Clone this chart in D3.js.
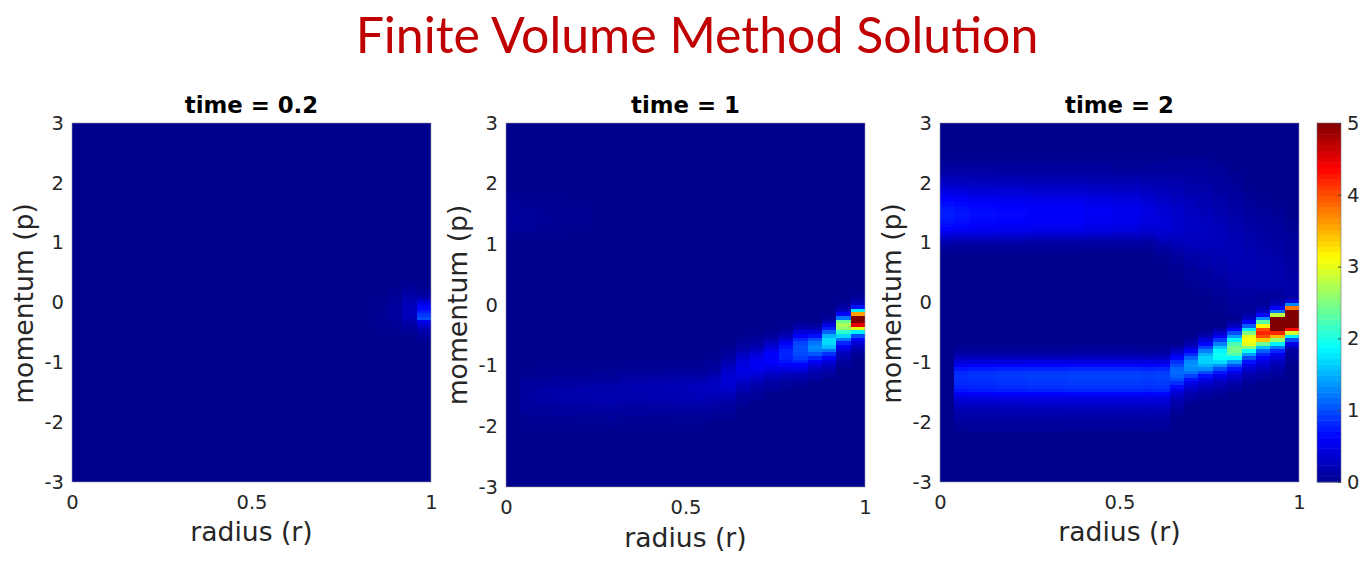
<!DOCTYPE html>
<html><head><meta charset="utf-8">
<script src="https://cdn.jsdelivr.net/npm/d3@7"></script>
<style>html,body{margin:0;padding:0;background:#fff;overflow:hidden}svg{display:block}</style>
</head><body><svg id="c" width="1370" height="563"></svg>
<script>
const mainTitle = "Finite Volume Method Solution";
const panelTitles = ["time = 0.2", "time = 1", "time = 2"];
const xLabel = "radius (r)";
const yLabel = "momentum (p)";
const xTicks = [0, 0.5, 1];
const xTickLabels = ["0", "0.5", "1"];
const yTicks = [-3, -2, -1, 0, 1, 2, 3];
const cbarTicks = [0, 1, 2, 3, 4, 5];
const nCols = 25, nRows = 100;

// cell values in hundredths: [column, first row (from p=-3, step 0.06), values going up]
const time02 = [
 [21,42,[1,2,3,3,3,3,2,2,1]],
 [22,41,[2,3,4,5,6,7,7,7,6,5,4,3,2]],
 [23,41,[3,6,10,16,22,25,25,24,22,20,17,13,9,5,3]],
 [24,39,[4,7,12,20,30,50,100,90,75,65,55,35,15,7,3]]
];
const time1 = [
 [0,68,[2,3,5,6,7,7,7,6,6,5,4,3,2]],
 [1,68,[2,3,4,5,6,6,6,5,5,4,3,2,2]],
 [2,69,[2,3,4,5,5,5,5,4,4,3,2]],
 [3,69,[1,2,3,4,4,4,4,3,3,2,1]],
 [4,70,[1,2,3,3,3,3,3,2,1]],
 [5,70,[1,2,2,3,3,3,2,2,1]],
 [1,16,[1,2,2,3,4,6,7,9,9,10,9,8,6,4,3,2,1]],
 [2,16,[2,2,3,5,6,8,10,12,13,14,13,11,9,6,4,3,2]],
 [3,16,[2,3,4,5,7,9,11,13,14,15,14,12,9,7,5,3,2]],
 [4,16,[2,3,4,5,7,9,12,14,15,16,15,13,10,7,5,3,2]],
 [5,16,[2,3,4,6,8,10,13,15,16,17,16,14,11,8,5,3,2]],
 [6,16,[2,3,4,6,8,11,13,16,17,18,17,15,12,8,6,4,2]],
 [7,16,[3,3,5,6,9,11,14,17,18,19,18,16,12,9,6,4,3]],
 [8,17,[3,3,5,7,9,12,15,18,19,20,19,17,13,9,6,4,3,2]],
 [9,17,[3,4,5,7,9,12,15,18,20,21,20,17,14,10,7,4,3,2]],
 [10,17,[3,4,5,7,10,13,16,19,21,22,21,18,14,10,7,4,3,2]],
 [11,17,[3,4,5,8,10,13,17,20,22,23,22,19,15,11,7,5,3,2]],
 [12,17,[3,4,6,8,11,14,18,21,23,24,23,20,16,12,8,5,3,2]],
 [13,17,[3,4,6,8,11,15,19,23,25,26,25,22,17,12,8,5,3,2]],
 [14,18,[3,4,6,9,12,16,20,24,27,29,28,25,20,14,9,6,4,2]],
 [15,19,[4,5,7,10,14,19,25,31,35,38,39,38,35,30,24,18,12,8,5,3]],
 [16,22,[4,6,8,11,16,22,29,36,42,46,48,46,42,35,27,19,12,7,4]],
 [17,24,[5,7,10,14,20,28,37,46,52,56,55,50,40,30,20,12,7,3]],
 [18,26,[6,9,13,19,27,37,47,56,62,62,60,52,40,27,16,8,4]],
 [19,27,[6,9,14,22,32,46,60,72,78,80,78,70,55,38,22,11,5]],
 [20,28,[8,12,20,30,45,62,80,92,98,100,100,95,80,60,40,22,10,4]],
 [21,29,[7,12,18,28,42,60,80,105,125,130,120,100,70,42,20,8]],
 [22,30,[7,12,20,30,42,62,85,120,155,170,170,150,110,75,45,20,8]],
 [23,33,[6,10,17,25,38,55,80,120,170,210,260,270,240,120,60,30,12,5]],
 [24,36,[8,15,25,40,65,100,180,300,450,550,500,360,180,70,25,10,5]]
];
const time2 = [
 [0,64,[5,9,15,27,40,53,62,68,72,75,76,75,73,68,63,56,49,42,35,29,23,17,13,9,6,4]],
 [1,64,[4,9,14,25,37,50,59,65,68,71,72,71,69,65,60,53,47,40,33,27,22,17,12,9,6,4]],
 [2,64,[4,8,14,24,35,48,56,61,65,67,68,67,65,61,56,50,44,37,31,26,20,16,12,8,5,3]],
 [3,64,[4,8,14,24,35,48,56,61,65,67,68,67,65,61,56,50,44,37,31,26,20,16,12,8,5,3]],
 [4,64,[4,8,13,23,34,46,53,59,62,64,65,64,62,59,54,48,42,36,30,25,20,15,11,8,5,3]],
 [5,64,[4,8,13,23,34,46,53,59,62,64,65,64,62,59,54,48,42,36,30,25,20,15,11,8,5,3]],
 [6,64,[4,7,12,22,32,43,51,56,59,61,62,61,60,56,51,46,40,34,29,24,19,14,11,7,5,3]],
 [7,64,[4,7,12,22,32,43,51,56,59,61,62,61,60,56,51,46,40,34,29,24,19,14,11,7,5,3]],
 [8,64,[4,7,12,22,32,43,51,56,59,61,62,61,60,56,51,46,40,34,29,24,19,14,11,7,5,3]],
 [9,64,[4,7,12,22,32,43,51,56,59,61,62,61,60,56,51,46,40,34,29,24,19,14,11,7,5,3]],
 [10,64,[3,7,12,20,30,41,48,52,55,57,58,57,56,52,48,43,38,32,27,22,17,13,10,7,5,3]],
 [11,64,[3,7,12,20,30,41,48,52,55,57,58,57,56,52,48,43,38,32,27,22,17,13,10,7,5,3]],
 [12,64,[3,6,11,19,28,38,44,49,51,53,54,53,52,49,45,40,35,30,25,21,16,12,9,6,4,3]],
 [13,64,[3,6,11,19,28,38,44,49,51,53,54,53,52,49,45,40,35,30,25,21,16,12,9,6,4,3]],
 [14,64,[3,6,9,16,24,32,38,41,44,46,46,46,44,41,38,34,30,25,21,17,14,11,8,6,4,2]],
 [15,62,[2,4,7,12,19,27,33,37,39,41,42,42,41,40,38,35,32,29,26,23,20,17,14,11,9,7,5,3]],
 [16,58,[2,3,4,6,8,11,15,19,23,27,30,33,34,35,35,35,34,33,31,29,27,25,23,20,18,16,13,11,9,7,5,4,3]],
 [17,54,[2,3,4,5,6,8,10,12,14,17,19,22,24,26,28,29,30,30,30,29,28,27,26,24,23,21,19,17,15,13,11,10,8,7,5,4,3]],
 [18,52,[3,4,5,6,7,9,10,12,14,15,17,19,21,23,24,25,26,27,27,27,26,25,24,23,22,20,19,17,16,14,13,11,10,9,7,6,5,4,3]],
 [19,49,[3,4,5,6,7,8,10,11,13,14,16,17,19,20,22,23,24,25,25,25,24,24,23,22,21,20,18,17,15,14,13,11,10,9,8,7,6,5,4,3]],
 [20,46,[4,5,6,7,8,9,10,12,13,15,16,17,19,20,21,22,23,23,23,23,22,22,21,20,19,18,17,16,15,13,12,11,10,9,8,7,6,5,4,3]],
 [21,48,[5,6,8,9,10,12,13,15,16,18,19,20,21,21,20,20,19,18,17,16,15,14,13,12,11,10,9,8,7,6,5,4,3]],
 [22,50,[6,8,10,12,14,15,16,17,18,19,19,18,18,17,16,15,14,13,12,11,10,9,8,7,6,6,5,4,3]],
 [23,52,[10,12,14,15,16,17,17,16,16,15,14,13,13,12,11,10,9,8,8,7,6,5,5,4,3]],
 [24,51,[12,14,15,15,14,14,13,12,12,11,10,10,9,8,8,7,6,6,5,4,4,3]],
 [1,14,[3,5,8,10,14,18,23,29,36,44,58,72,78,82,83,85,82,72,58,41,26,14,8,3]],
 [2,14,[4,5,8,11,14,18,24,30,37,46,60,75,81,84,86,88,85,75,60,42,26,15,8,4]],
 [3,14,[4,5,8,11,14,18,24,30,37,46,60,75,81,84,86,88,85,75,60,42,26,15,8,4]],
 [4,14,[4,5,8,11,15,19,25,31,38,47,62,77,84,87,89,91,88,77,62,44,27,15,8,4]],
 [5,14,[4,5,8,11,15,19,25,31,38,47,62,77,84,87,89,91,88,77,62,44,27,15,8,4]],
 [6,14,[4,6,8,11,15,20,25,32,39,48,63,79,86,89,91,93,90,79,63,45,28,16,8,4]],
 [7,14,[4,6,8,11,15,20,25,32,39,48,63,79,86,89,91,93,90,79,63,45,28,16,8,4]],
 [8,14,[4,6,8,11,15,20,25,32,39,48,63,79,86,89,91,93,90,79,63,45,28,16,8,4]],
 [9,14,[4,6,9,11,15,20,26,32,40,49,65,81,87,91,93,95,92,81,65,46,29,16,9,4]],
 [10,14,[4,6,9,11,15,20,26,32,40,49,65,81,87,91,93,95,92,81,65,46,29,16,9,4]],
 [11,14,[4,6,9,11,15,20,26,32,40,49,65,81,87,91,93,95,92,81,65,46,29,16,9,4]],
 [12,14,[4,6,9,11,15,20,26,32,40,49,65,81,87,91,93,95,92,81,65,46,29,16,9,4]],
 [13,14,[4,6,9,11,15,20,26,32,40,49,65,81,87,91,93,95,92,81,65,46,29,16,9,4]],
 [14,14,[4,6,8,11,15,20,25,32,39,48,63,79,86,89,91,93,90,79,63,45,28,16,8,4]],
 [15,14,[4,6,9,11,15,20,26,32,40,49,65,81,87,91,93,95,92,81,65,46,29,16,9,4]],
 [16,19,[6,9,13,18,26,36,48,66,85,100,110,115,112,100,85,65,45,28,14]],
 [17,22,[8,12,18,26,36,50,70,95,118,130,135,130,110,82,58,36,18,8]],
 [18,23,[6,10,16,24,36,50,70,100,130,150,165,165,150,125,95,65,42,22,8]],
 [19,24,[6,10,16,24,36,50,72,100,135,170,190,195,185,160,125,90,60,32,12]],
 [20,25,[6,10,16,24,36,50,72,100,140,185,225,245,245,225,185,140,100,62,30,10]],
 [21,27,[6,10,17,25,35,50,70,100,140,190,250,300,310,300,250,180,110,60,30,15,7]],
 [22,28,[7,10,17,25,35,45,60,80,110,160,240,340,400,420,400,310,230,130,65,30,15,8]],
 [23,29,[6,9,13,20,28,40,55,80,120,180,260,350,420,550,550,550,550,280,120,60,30,15,8]],
 [24,33,[3,5,7,10,25,50,100,180,290,430,550,550,550,550,550,380,130,40]]
];

const jetStops = [0, 0.625, 1.875, 3.125, 4.375, 5];
const jetColors = ["#00008f", "#0000ff", "#00ffff", "#ffff00", "#ff0000", "#800000"];
const color = d3.scaleLinear().domain(jetStops).range(jetColors).clamp(true);

const frames = [
  {data: time02, left: 72, top: 123, w: 359, h: 359, labelY: 541, ylabelX: 33},
  {data: time1, left: 506, top: 123, w: 359, h: 364, labelY: 547, ylabelX: 467},
  {data: time2, left: 940, top: 123, w: 359, h: 359, labelY: 541, ylabelX: 901}
];
const svg = d3.select("#c");
const font = "'DejaVu Sans', sans-serif";
const ink = "#262626";

svg.append("text").attr("x", 697).attr("y", 53).attr("text-anchor", "middle")
  .attr("font-family", "Lato, sans-serif").attr("font-size", 50).attr("fill", "#c00000").text(mainTitle);

frames.forEach((f, k) => {
  const g = svg.append("g");
  const x = d3.scaleLinear().domain([0, 1]).range([f.left, f.left + f.w]);
  const y = d3.scaleLinear().domain([-3, 3]).range([f.top + f.h, f.top]);
  const cell = d3.scaleLinear().domain([0, nCols]).range(x.domain());
  const row = d3.scaleLinear().domain([0, nRows]).range(y.domain());
  g.append("rect").attr("x", x(0)).attr("y", y(3)).attr("width", x(1) - x(0)).attr("height", y(-3) - y(3)).attr("fill", color(0));
  const cells = f.data.flatMap(([c, s, vs]) => vs.map((v, i) => ({c, r: s + i, v: v / 100})));
  g.append("g").attr("shape-rendering", "crispEdges").selectAll("rect").data(cells).join("rect")
    .attr("x", d => x(cell(d.c))).attr("width", d => x(cell(d.c + 1)) - x(cell(d.c)))
    .attr("y", d => y(row(d.r + 1))).attr("height", d => y(row(d.r)) - y(row(d.r + 1)))
    .attr("fill", d => color(d.v));
  g.append("rect").attr("x", x(0)).attr("y", y(3)).attr("width", x(1) - x(0)).attr("height", y(-3) - y(3))
    .attr("fill", "none").attr("stroke", "#9a9aa8").attr("stroke-opacity", 0.55).attr("stroke-width", 1);

  const ax = g.append("g").attr("transform", `translate(0,${y(-3)})`)
    .call(d3.axisBottom(x).tickValues(xTicks).tickFormat((d, i) => xTickLabels[i]).tickSize(0).tickPadding(13));
  const ay = g.append("g").attr("transform", `translate(${x(0)},0)`)
    .call(d3.axisLeft(y).tickValues(yTicks).tickFormat(String).tickSize(0).tickPadding(8));
  [ax, ay].forEach(a => {
    a.select(".domain").remove();
    a.selectAll("text").attr("font-family", font).attr("font-size", 19.5).attr("fill", ink);
  });
  g.append("text").attr("x", x(0.5)).attr("y", 113).attr("text-anchor", "middle")
    .attr("font-family", font).attr("font-weight", "bold").attr("font-size", 22.8).attr("fill", "#000").text(panelTitles[k]);
  g.append("text").attr("x", x(0.5)).attr("y", f.labelY).attr("text-anchor", "middle")
    .attr("font-family", font).attr("font-size", 26.6).attr("fill", ink).text(xLabel);
  g.append("text").attr("transform", `translate(${f.ylabelX},${(f.top + y(-3)) / 2 + (k === 1 ? 0 : 1)}) rotate(-90)`).attr("text-anchor", "middle")
    .attr("font-family", font).attr("font-size", 26.6).attr("fill", ink).text(yLabel);
});

// colorbar
const cb = svg.append("g");
const cy = d3.scaleLinear().domain([0, 5]).range([482, 123]);
const levels = d3.range(64);
const lev = d3.scaleLinear().domain([0, 64]).range([0, 5]);
const cbLeft = 1317, cbWidth = 24;
cb.append("g").selectAll("rect").data(levels).join("rect")
  .attr("x", cbLeft).attr("width", cbWidth)
  .attr("y", d => cy(lev(d + 1))).attr("height", d => cy(lev(d)) - cy(lev(d + 1)) + 0.5)
  .attr("fill", d => color(lev(d + 0.5)));
cb.append("rect").attr("x", cbLeft).attr("y", 123).attr("width", cbWidth).attr("height", 359)
  .attr("fill", "none").attr("stroke", "#777").attr("stroke-opacity", 0.6);
const caxis = cb.append("g").attr("transform", `translate(${cbLeft + cbWidth},0)`)
  .call(d3.axisRight(cy).tickValues(cbarTicks).tickFormat(String).tickSize(-3).tickPadding(6));
caxis.select(".domain").remove();
caxis.selectAll("line").attr("stroke", "#444");
caxis.selectAll("text").attr("font-family", font).attr("font-size", 19.5).attr("fill", ink);
</script></body></html>
